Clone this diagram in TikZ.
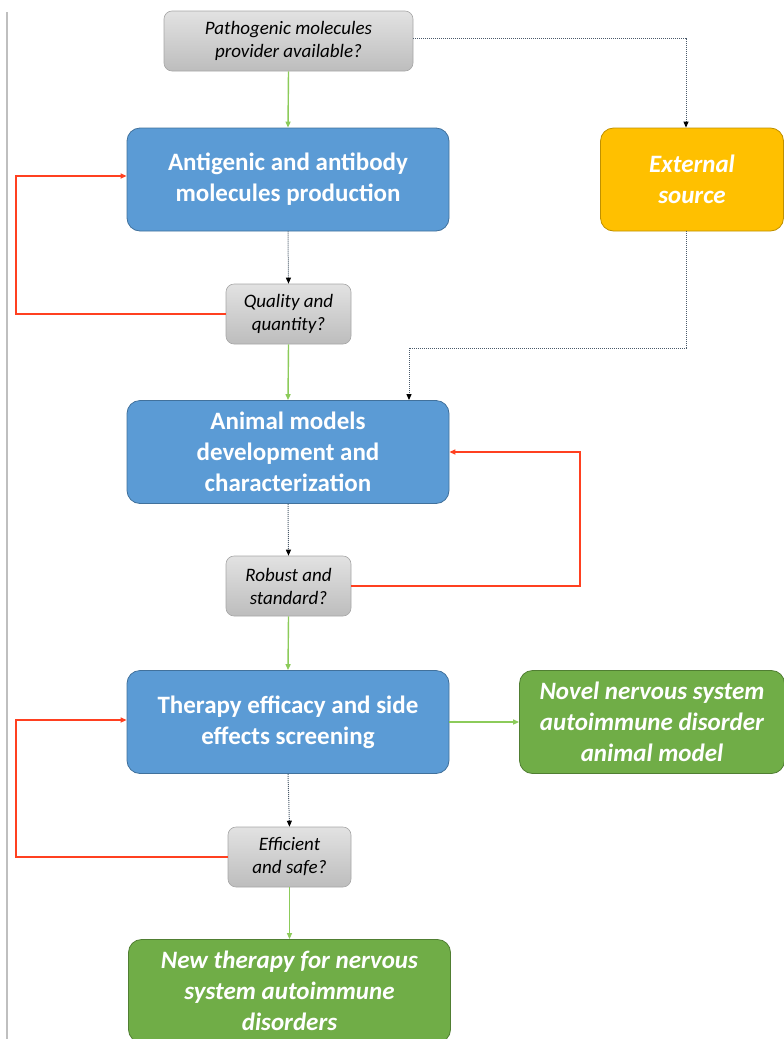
\documentclass[tikz,border=0pt]{standalone}
\usepackage{fontspec}
\setmainfont{Carlito}
\usetikzlibrary{arrows.meta}
\definecolor{bfill}{HTML}{5B9BD5}
\definecolor{bdraw}{HTML}{41719C}
\definecolor{ofill}{HTML}{FFC000}
\definecolor{odraw}{HTML}{BF9000}
\definecolor{gfill}{HTML}{70AD47}
\definecolor{gdraw}{HTML}{507E32}
\definecolor{qtop}{HTML}{E2E2E2}
\definecolor{qbot}{HTML}{BDBDBD}
\definecolor{qdraw}{HTML}{A6A6A6}
\definecolor{redline}{HTML}{FF4020}
\definecolor{greenline}{HTML}{8CCB5A}
\definecolor{dotline}{HTML}{4A5A6A}
\tikzset{
  bigbox/.style={rounded corners=13pt, minimum width=322pt, minimum height=103pt, align=center, text=white, font=\fontsize{25}{31}\selectfont\bfseries, line width=0.8pt},
  bluebox/.style={bigbox, fill=bfill, draw=bdraw},
  greenbox/.style={bigbox, fill=gfill, draw=gdraw, font=\fontsize{25}{31}\selectfont\bfseries\itshape},
  orangebox/.style={bigbox, fill=ofill, draw=odraw, font=\fontsize{25}{31}\selectfont\bfseries\itshape},
  qbox/.style={rounded corners=8pt, minimum width=125pt, minimum height=60pt, align=center, top color=qtop, bottom color=qbot, draw=qdraw, line width=0.6pt, font=\fontsize{19}{23}\selectfont\itshape},
  yes/.style={draw=greenline, line width=1.4pt, -{Triangle[length=6pt,width=5pt]}},
  retry/.style={draw=redline, line width=2.3pt, -{Triangle[length=6pt,width=5pt]}, rounded corners=0pt},
  dots/.style={draw=dotline, line width=1pt, dash pattern=on 1pt off 1pt, -{Triangle[length=6pt,width=5pt,color=black]}},
}
\begin{document}
\begin{tikzpicture}[x=1pt,y=-1pt]
\useasboundingbox (0,0) rectangle (784,1039);
\draw[black!25, line width=1.5pt] (7,12) -- (7,1039);

\node[qbox, minimum width=249pt] (q0) at (288.5,41) {Pathogenic molecules\\provider available?};
\node[bluebox] (b1) at (288,179.5) {Antigenic and antibody\\molecules production};
\node[orangebox, minimum width=183pt] (ext) at (692,179.5) {External\\source};
\node[qbox] (q1) at (288.5,314) {Quality and\\quantity?};
\node[bluebox] (b2) at (288,452) {Animal models\\development and\\characterization};
\node[qbox] (q2) at (288.5,586) {Robust and\\standard?};
\node[bluebox] (b3) at (288,722) {Therapy efficacy and side\\effects screening};
\node[greenbox, minimum width=265pt] (nov) at (652,722) {Novel nervous system\\autoimmune disorder\\animal model};
\node[qbox, minimum width=123pt] (q3) at (289.5,857) {Efficient\\and safe?};
\node[greenbox] (thr) at (289.5,991) {New therapy for nervous\\system autoimmune\\disorders};

\coordinate (c1) at (686,38);
\coordinate (c2) at (686,348);
\coordinate (c3) at (409,348);
\coordinate (r1a) at (16,314);
\coordinate (r1b) at (16,176);
\coordinate (r2a) at (580,586);
\coordinate (r2b) at (580,452);
\coordinate (r3a) at (16,857);
\coordinate (r3b) at (16,720);

\draw[yes] (q0.south) -- (b1.north);
\draw[dots] (q0.east |- c1) -- (c1) -- (ext.north -| c1);
\draw[dots] (b1.south) -- (q1.north);
\draw[retry] (q1.west) -- (r1a) -- (r1b) -- (b1.west |- r1b);
\draw[yes] (q1.south) -- (b2.north);
\draw[dots] (ext.south -| c2) -- (c2) -- (c3) -- (b2.north -| c3);
\draw[dots] (b2.south) -- (q2.north);
\draw[retry] (q2.east) -- (r2a) -- (r2b) -- (b2.east);
\draw[yes] (q2.south) -- (b3.north);
\draw[yes] (b3.east) -- (nov.west);
\draw[dots] (b3.south) -- (q3.north);
\draw[retry] (q3.west) -- (r3a) -- (r3b) -- (b3.west |- r3b);
\draw[yes] (q3.south) -- (thr.north);
\end{tikzpicture}
\end{document}
